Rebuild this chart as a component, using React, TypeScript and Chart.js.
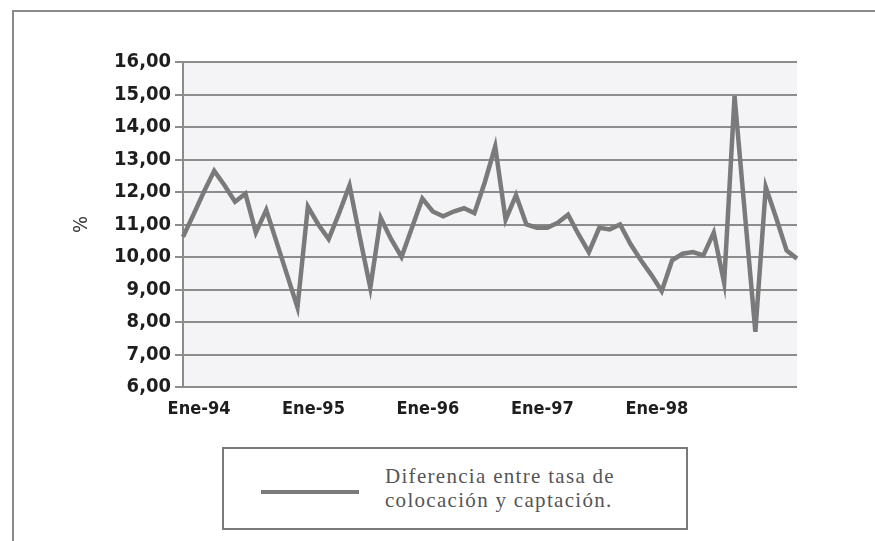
import React, { useEffect, useRef } from "react";
import { Chart, registerables } from "chart.js";

Chart.register(...registerables);

// Monthly categories, Jan-94 .. Dec-98
const months = ["Ene", "Feb", "Mar", "Abr", "May", "Jun", "Jul", "Ago", "Sep", "Oct", "Nov", "Dic"];
const years = ["94", "95", "96", "97", "98"];
const categories: string[] = years.flatMap((y) => months.map((m) => `${m}-${y}`));

// Difference between lending and deposit rate (%)
const spreadValues = [
  10.62, 11.3, 12.0, 12.65, 12.2, 11.7, 11.95, 10.75, 11.45, 10.45, 9.45, 8.45,
  11.55, 11.0, 10.55, 11.35, 12.2, 10.6, 9.05, 11.2, 10.55, 10.0, 10.9, 11.8,
  11.4, 11.25, 11.4, 11.5, 11.35, 12.3, 13.4, 11.15, 11.9, 11.0, 10.9, 10.9,
  11.05, 11.3, 10.7, 10.15, 10.9, 10.85, 11.0, 10.4, 9.9, 9.45, 8.95, 9.9,
  10.1, 10.15, 10.05, 10.75, 9.2, 14.95, 11.3, 7.7, 12.15, 11.2, 10.2, 9.95,
];

const xTickLabels = ["Ene-94", "Ene-95", "Ene-96", "Ene-97", "Ene-98"];
const yTicks = [6, 7, 8, 9, 10, 11, 12, 13, 14, 15, 16];
const seriesLabel = "Diferencia entre tasa de colocación y captación.";

const W = 875;
const H = 541;

export default function App() {
  const ref = useRef<HTMLCanvasElement | null>(null);

  useEffect(() => {
    document.body.style.margin = "0";
    const canvas = ref.current;
    if (!canvas) return;
    const bgPlugin = {
      id: "plotBg",
      beforeDraw(chart: any) {
        const { ctx, chartArea } = chart;
        ctx.save();
        ctx.fillStyle = "#f4f3f6";
        ctx.fillRect(chartArea.left, chartArea.top, chartArea.right - chartArea.left, chartArea.bottom - chartArea.top);
        ctx.restore();
      },
    };
    const chart = new Chart(canvas, {
      type: "line",
      data: {
        labels: categories,
        datasets: [
          {
            label: seriesLabel,
            data: spreadValues,
            borderColor: "#7a7a7a",
            borderWidth: 4.5,
            pointRadius: 0,
            tension: 0,
            fill: false,
          },
        ],
      },
      options: {
        animation: false,
        responsive: false,
        maintainAspectRatio: false,
        layout: { padding: { left: 70, right: 78, top: 62, bottom: 114 } },
        plugins: { legend: { display: false }, tooltip: { enabled: false } },
        scales: {
          x: {
            type: "category",
            offset: false,
            grid: { display: false, drawTicks: false },
            border: { display: false },
            afterFit: (s: any) => {
              s.height = 40;
            },
            ticks: {
              autoSkip: false,
              maxRotation: 0,
              minRotation: 0,
              padding: 12,
              labelOffset: 16,
              color: "#1e1e1e",
              font: { family: "DejaVu Sans Condensed", weight: "bold", size: 18 },
              callback: (_v: any, i: number) =>
                i % 11 === 0 && i / 11 < xTickLabels.length ? xTickLabels[i / 11] : "",
            },
          },
          y: {
            min: 6,
            max: 16,
            afterFit: (s: any) => {
              s.width = 113;
            },
            afterBuildTicks: (s: any) => {
              s.ticks = yTicks.map((v) => ({ value: v }));
            },
            grid: { color: "#8c8c8c", lineWidth: 2, tickLength: 8, drawTicks: true },
            border: { display: true, color: "#8c8c8c", width: 2 },
            ticks: {
              padding: 4,
              color: "#1e1e1e",
              font: { family: "DejaVu Sans Condensed", weight: "bold", size: 20 },
              callback: (v: any) => Number(v).toFixed(2).replace(".", ","),
            },
            title: {
              display: true,
              text: "%",
              color: "#333",
              padding: 0,
              font: { family: "DejaVu Sans Condensed", size: 20 },
            },
          },
        },
      },
      plugins: [bgPlugin],
    } as any);
    return () => chart.destroy();
  }, []);

  return (
    <div style={{ position: "absolute", left: 0, top: 0, width: W, height: H, background: "#fff", overflow: "hidden" }}>
      <div
        style={{
          position: "absolute",
          left: 12,
          top: 10,
          right: 0,
          bottom: 0,
          borderTop: "2px solid #8a8a8a",
          borderLeft: "2px solid #8a8a8a",
        }}
      />
      <canvas ref={ref} width={W} height={H} style={{ position: "absolute", left: 0, top: 0 }} />
      <div
        style={{
          position: "absolute",
          left: 222,
          top: 447,
          width: 462,
          height: 79,
          border: "2px solid #7a7a7a",
          background: "#fff",
        }}
      >
        <div style={{ position: "absolute", left: 37, top: 41, width: 98, height: 4, background: "#7a7a7a" }} />
        <div
          style={{
            position: "absolute",
            left: 161,
            top: 15,
            fontFamily: "'Liberation Serif', 'DejaVu Serif', serif",
            fontSize: 21,
            letterSpacing: "1.3px",
            lineHeight: "24px",
            color: "#555",
            whiteSpace: "nowrap",
          }}
        >
          Diferencia entre tasa de
          <br />
          colocación y captación.
        </div>
      </div>
    </div>
  );
}
